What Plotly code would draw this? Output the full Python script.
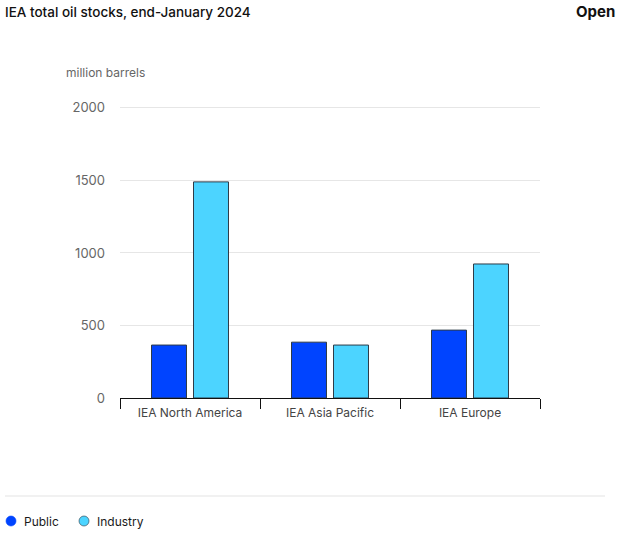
import plotly.graph_objects as go

regions = ["IEA North America", "IEA Asia Pacific", "IEA Europe"]
public = [365, 385, 468]
industry = [1490, 365, 924]
y_ticks = [0, 500, 1000, 1500, 2000]
series_names = ["Public", "Industry"]

c_public = "#0044FF"
c_industry = "#4CD4FF"
edge = "#2E3B47"

W, H = 619, 542
L, R, T, B = 120, 79, 105, 144
PW, PH = W - L - R, H - T - B


def px(x):
    return (x - L) / PW


def py(y):
    return (H - B - y) / PH


fig = go.Figure()
fig.add_trace(go.Bar(x=regions, y=public, name=series_names[0],
                     marker=dict(color=c_public, line=dict(color=edge, width=1)), showlegend=False))
fig.add_trace(go.Bar(x=regions, y=industry, name=series_names[1],
                     marker=dict(color=c_industry, line=dict(color=edge, width=1)), showlegend=False))

fig.update_layout(
    width=W, height=H,
    margin=dict(l=L, r=R, t=T, b=B),
    paper_bgcolor="white", plot_bgcolor="white",
    font=dict(family="Inter, Roboto, sans-serif", size=12, color="#555"),
    barmode="group", bargap=0.4, bargroupgap=0.167,
    showlegend=False,
    xaxis=dict(showline=True, linecolor="#111", linewidth=1, ticks="outside", tickson="boundaries",
               ticklen=10, tickcolor="#111", showgrid=False, tickfont=dict(size=12, color="#444"),
               ticklabelstandoff=4),
    yaxis=dict(range=[0, 2020], tickvals=y_ticks, showgrid=True, gridcolor="#e6e6e6", zeroline=False,
               tickfont=dict(size=13, color="#666"), ticklabelstandoff=14, fixedrange=True),
)
fig.add_annotation(text="IEA total oil stocks, end-January 2024", xref="paper", yref="paper",
                   x=px(3), y=py(12), xanchor="left", yanchor="middle", showarrow=False,
                   font=dict(size=13.5, color="#111", weight=500))
fig.add_annotation(text="<b>Open</b>", xref="paper", yref="paper",
                   x=px(617), y=py(12), xanchor="right", yanchor="middle", showarrow=False,
                   font=dict(size=15, color="#111"))
fig.add_annotation(text="million barrels", xref="paper", yref="paper",
                   x=px(64), y=py(73), xanchor="left", yanchor="middle", showarrow=False,
                   font=dict(size=12, color="#666"))
fig.add_shape(type="line", xref="paper", yref="paper", x0=px(5), x1=px(605),
              y0=py(496), y1=py(496), line=dict(color="#e3e3e3", width=1))

# legend
for name, col, cx, tx in [(series_names[0], c_public, 11, 22), (series_names[1], c_industry, 84, 95)]:
    fig.add_shape(type="circle", xref="paper", yref="paper",
                  x0=px(cx - 5), x1=px(cx + 5), y0=py(521 + 5), y1=py(521 - 5),
                  fillcolor=col, line=dict(color=edge if col == c_industry else col, width=0.6))
    fig.add_annotation(text=name, xref="paper", yref="paper", x=px(tx), y=py(521),
                       xanchor="left", yanchor="middle", showarrow=False,
                       font=dict(size=12, color="#1a1a1a"))

fig.write_html("out.html", post_script="document.body.style.margin='0';",
               config={"displayModeBar": False})
